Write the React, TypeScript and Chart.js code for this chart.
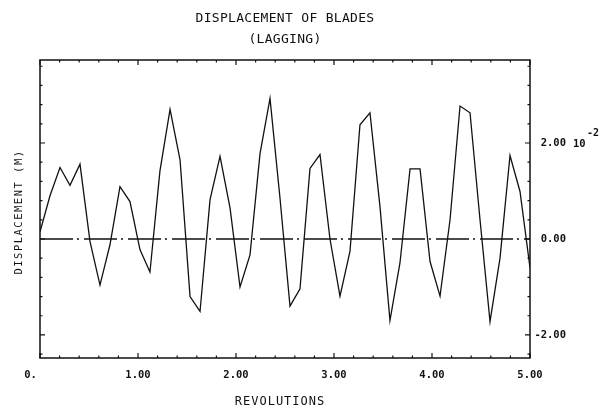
import React, { useEffect, useRef } from 'react';
import { Chart, registerables } from 'chart.js';

Chart.register(...registerables);

// ---- data ----
const revolutions = [
  0, 0.102, 0.204, 0.306, 0.408, 0.51, 0.612, 0.714, 0.816, 0.918,
  1.02, 1.122, 1.224, 1.327, 1.429, 1.531, 1.633, 1.735, 1.837, 1.939,
  2.041, 2.143, 2.245, 2.347, 2.449, 2.551, 2.653, 2.755, 2.857, 2.959,
  3.061, 3.163, 3.265, 3.367, 3.469, 3.571, 3.673, 3.776, 3.878, 3.98,
  4.082, 4.184, 4.286, 4.388, 4.49, 4.592, 4.694, 4.796, 4.898, 5.0,
];
// displacement in units of 10^-2 m
const displacement = [
  0.15, 0.9, 1.49, 1.12, 1.56, -0.05, -0.96, -0.12, 1.09, 0.78,
  -0.22, -0.69, 1.42, 2.7, 1.65, -1.2, -1.51, 0.82, 1.72, 0.65,
  -1.0, -0.33, 1.78, 2.93, 0.85, -1.4, -1.04, 1.47, 1.76, 0.0,
  -1.19, -0.26, 2.38, 2.63, 0.68, -1.7, -0.5, 1.46, 1.46, -0.47,
  -1.19, 0.4, 2.77, 2.63, 0.4, -1.72, -0.4, 1.74, 0.99, -0.6,
];
const zeroLineX = [0, 5];
const zeroLineY = [0, 0];

const xLabelValues = [0, 1, 2, 3, 4, 5];
const xLabelTexts = ['0.   ', '1.00', '2.00', '3.00', '4.00', '5.00'];
const yLabelValues = [-2, 0, 2];
const yLabelTexts = ['-2.00', '0.00', '2.00'];

const TITLE = 'DISPLACEMENT OF BLADES';
const SUBTITLE = '(LAGGING)';
const X_TITLE = 'REVOLUTIONS';
const Y_TITLE = 'DISPLACEMENT (M)';
const Y_EXP_BASE = '10';
const Y_EXP = '-2';

const X_MIN = 0;
const X_MAX = 5;
const Y_MIN = -2.48;
const Y_MAX = 3.73;

const INK = '#111111';
const MONO = "'DejaVu Sans Mono', 'Liberation Mono', monospace";

function labelFor(values: number[], texts: string[], v: number): string {
  for (let i = 0; i < values.length; i++) {
    if (Math.abs(values[i] - v) < 1e-6) return texts[i];
  }
  return '';
}

const plotterPlugin = {
  id: 'plotterFrame',
  afterDraw(chart: any) {
    const { ctx, chartArea: a, scales } = chart;
    const xs = scales.x;
    const ys = scales.y;
    ctx.save();
    ctx.strokeStyle = INK;
    ctx.lineWidth = 1.5;
    ctx.strokeRect(a.left, a.top, a.right - a.left, a.bottom - a.top);

    ctx.lineWidth = 1.2;
    ctx.beginPath();
    xs.ticks.forEach((t: any) => {
      const p = xs.getPixelForValue(t.value);
      const major = Math.abs(t.value - Math.round(t.value)) < 1e-6;
      const len = major ? 5 : 2.5;
      ctx.moveTo(p, a.bottom);
      ctx.lineTo(p, a.bottom - len);
      ctx.moveTo(p, a.top);
      ctx.lineTo(p, a.top + len);
    });
    ys.ticks.forEach((t: any) => {
      const p = ys.getPixelForValue(t.value);
      const major = labelFor(yLabelValues, yLabelTexts, t.value) !== '';
      const len = major ? 5 : 2.5;
      ctx.moveTo(a.left, p);
      ctx.lineTo(a.left + len, p);
      ctx.moveTo(a.right, p);
      ctx.lineTo(a.right - len, p);
    });
    ctx.stroke();

    ctx.fillStyle = INK;
    ctx.textBaseline = 'middle';
    ctx.textAlign = 'center';
    const cx = (a.left + a.right) / 2;
    try { (ctx as any).letterSpacing = '0.3px'; } catch (e) {}
    ctx.font = `13px ${MONO}`;
    ctx.fillText(TITLE, cx, 19);
    ctx.fillText(SUBTITLE, cx, 40);

    try { (ctx as any).letterSpacing = '1px'; } catch (e) {}
    ctx.font = `12px ${MONO}`;
    ctx.fillText(X_TITLE, cx - 5, 402);

    try { (ctx as any).letterSpacing = '1.5px'; } catch (e) {}
    ctx.font = `10.5px ${MONO}`;
    ctx.save();
    ctx.translate(19.5, 212);
    ctx.rotate(-Math.PI / 2);
    ctx.fillText(Y_TITLE, 0, 0);
    ctx.restore();

    try { (ctx as any).letterSpacing = '0px'; } catch (e) {}
    const y2 = ys.getPixelForValue(2);
    ctx.textAlign = 'left';
    ctx.font = `bold 10.5px ${MONO}`;
    ctx.fillText(Y_EXP_BASE, a.right + 43, y2 + 1);
    ctx.font = `bold 10px ${MONO}`;
    ctx.fillText(Y_EXP, a.right + 57, y2 - 10);
    ctx.restore();
  },
};

export default function App() {
  const canvasRef = useRef<HTMLCanvasElement | null>(null);

  useEffect(() => {
    const canvas = canvasRef.current;
    if (!canvas) return;
    const tickFont = { family: MONO, size: 10.5, weight: 'bold' as const };
    const chart = new Chart(canvas, {
      type: 'line',
      data: {
        datasets: [
          {
            data: revolutions.map((x, i) => ({ x, y: displacement[i] })),
            borderColor: INK,
            borderWidth: 1.3,
            pointRadius: 0,
            tension: 0,
            fill: false,
          },
          {
            data: zeroLineX.map((x, i) => ({ x, y: zeroLineY[i] })),
            borderColor: INK,
            borderWidth: 1.4,
            borderDash: [33, 4, 2, 5],
            pointRadius: 0,
            fill: false,
          },
        ],
      },
      options: {
        animation: false,
        responsive: true,
        maintainAspectRatio: false,
        layout: { padding: { left: 40, top: 60, right: 50, bottom: 0 } },
        plugins: {
          legend: { display: false },
          title: { display: false },
          tooltip: { enabled: false },
        },
        scales: {
          x: {
            type: 'linear',
            position: 'bottom',
            min: X_MIN,
            max: X_MAX,
            afterFit: (s: any) => { s.height = 50; },
            grid: { display: false, drawTicks: false },
            border: { display: false },
            ticks: {
              stepSize: 0.2,
              autoSkip: false,
              maxRotation: 0,
              includeBounds: false,
              padding: 11,
              color: INK,
              font: tickFont,
              callback: (v: any) => labelFor(xLabelValues, xLabelTexts, Number(v)),
            },
          },
          y: {
            type: 'linear',
            position: 'right',
            min: Y_MIN,
            max: Y_MAX,
            afterFit: (s: any) => { s.width = 36; },
            grid: { display: false, drawTicks: false },
            border: { display: false },
            ticks: {
              stepSize: 0.4,
              autoSkip: false,
              includeBounds: false,
              crossAlign: 'far',
              padding: 3,
              color: INK,
              font: tickFont,
              callback: (v: any) => labelFor(yLabelValues, yLabelTexts, Number(v)),
            },
          },
        },
      },
      plugins: [plotterPlugin],
    });
    return () => chart.destroy();
  }, []);

  return (
    <div style={{ position: 'fixed', left: 0, top: 0, width: 616, height: 408, background: '#fff' }}>
      <canvas ref={canvasRef} />
    </div>
  );
}
